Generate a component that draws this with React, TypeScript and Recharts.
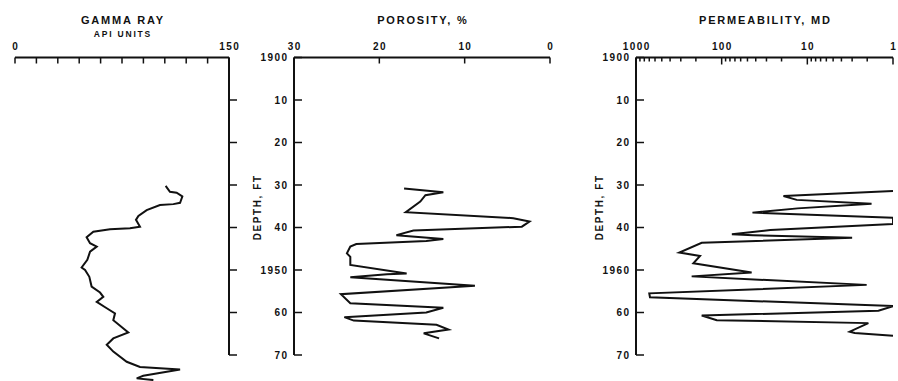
import React from 'react';
import { LineChart, Line, XAxis, YAxis, ReferenceLine, Label } from 'recharts';

// ---------- data ----------
const depthTicks = [1900, 1910, 1920, 1930, 1940, 1950, 1960, 1970];
const porosityDepthLabels = ['1900', '10', '20', '30', '40', '1950', '60', '70'];
const permDepthLabels = ['1900', '10', '20', '30', '40', '1960', '60', '70'];

const gammaTicks = [0, 15, 30, 45, 60, 75, 90, 105, 120, 135, 150];
const gammaTickLabels = ['0', '', '', '', '', '', '', '', '', '', '150'];
const porosityTicks = [30, 20, 10, 0];
const porosityTickLabels = ['30', '20', '10', '0'];
const permTicks = [1, 2, 3, 4, 5, 6, 7, 8, 9, 10, 20, 30, 40, 50, 60, 70, 80, 90, 100, 200, 300, 400, 500, 600, 700, 800, 900, 1000];
const permMajor = [1, 10, 100, 1000];

const gammaDepth = [1930.2, 1931.6, 1931.8, 1932.7, 1934.2, 1934.5, 1934.7, 1935.9, 1937.3, 1938.2, 1939.8, 1940.2, 1940.4, 1941.0, 1942.3, 1943.7, 1944.5, 1945.7, 1947.6, 1949.4, 1950.0, 1951.6, 1953.9, 1955.3, 1956.3, 1957.5, 1959.0, 1960.2, 1961.8, 1964.7, 1966.1, 1967.6, 1969.2, 1971.6, 1972.8, 1973.4, 1974.9, 1975.5, 1975.9];
const gammaValue = [105.6, 108.6, 113.3, 117.3, 115.7, 111, 101.6, 92.3, 86.5, 84.8, 87.6, 80.6, 66.6, 54.9, 50.2, 52.6, 57.3, 52.6, 50.7, 46.7, 49.1, 52.1, 53.7, 59.6, 61.9, 57.3, 64.3, 70.1, 68.9, 79.4, 68.9, 64.3, 68.9, 78.3, 87.6, 115.7, 89.9, 85.3, 97];

const porosityDepth = [1930.8, 1931.7, 1932.4, 1933.9, 1936.4, 1937.8, 1938.6, 1939.8, 1940.7, 1941.8, 1942.7, 1943.2, 1943.9, 1944.5, 1946.1, 1946.9, 1948.8, 1950.8, 1951.0, 1951.7, 1953.7, 1955.7, 1957.8, 1958.9, 1960.0, 1961.1, 1961.9, 1962.9, 1964.0, 1964.9, 1966.1];
const porosityValue = [17.1, 12.5, 14.6, 15.2, 16.9, 4.3, 2.4, 3.3, 16.0, 18.0, 12.5, 14.5, 22.7, 23.4, 23.8, 23.4, 23.4, 16.8, 19.1, 23.4, 8.8, 24.5, 23.4, 12.5, 14.5, 24.1, 23.0, 13.3, 11.9, 14.8, 13.0];

const permDepth = [1931.4, 1932.6, 1933.5, 1934.4, 1935.5, 1936.5, 1937.7, 1939.2, 1940.6, 1941.6, 1941.8, 1942.4, 1943.6, 1945.9, 1946.7, 1948.4, 1950.6, 1951.5, 1953.5, 1955.5, 1956.4, 1958.5, 1959.6, 1960.7, 1961.8, 1962.5, 1964.5, 1964.8, 1965.5];
const permValue = [1.0, 19, 13.3, 1.78, 13, 43.7, 1.0, 1.0, 27, 76, 43, 3.0, 171, 312, 179, 214, 44.7, 224, 2.03, 700, 687, 1.0, 1.48, 171, 114, 1.94, 3.2, 2.8, 1.0];

const gammaData = gammaDepth.map((d, i) => ({ depth: d, value: gammaValue[i] }));
const porosityData = porosityDepth.map((d, i) => ({ depth: d, value: porosityValue[i] }));
const permData = permDepth.map((d, i) => ({ depth: d, value: permValue[i] }));

// ---------- layout ----------
const W = 898;
const H = 381;
const TOP = 57.5;
const BOTTOM = 355;
const FONT = '"Liberation Sans", Arial, Helvetica, sans-serif';
const INK = '#111';
const AX = 2; // nominal axis thickness used for axis boxes
const TICK_FS = 10;
const TICK_LS = 1.4;

const TopTick = (p: any, label: string, len: number) => (
  <g>
    <line x1={p.x} x2={p.x} y1={p.y} y2={p.y + len} stroke={INK} strokeWidth={1.5} />
    {label ? (
      <text x={p.x + TICK_LS / 2} y={p.y - 7.5} textAnchor="middle" fontSize={TICK_FS} fontWeight="bold" fontFamily={FONT} fill={INK} letterSpacing={TICK_LS}>
        {label}
      </text>
    ) : null}
  </g>
);

const LeftTick = (p: any, label: string) => (
  <g>
    <line x1={p.x} x2={p.x + 8} y1={p.y} y2={p.y} stroke={INK} strokeWidth={1.5} />
    <text x={p.x - 7 + TICK_LS} y={p.y + 3.5} textAnchor="end" fontSize={TICK_FS} fontWeight="bold" fontFamily={FONT} fill={INK} letterSpacing={TICK_LS}>
      {label}
    </text>
  </g>
);

const RightTick = (p: any) => (
  <g>
    <line x1={p.x} x2={p.x + 8} y1={p.y} y2={p.y} stroke={INK} strokeWidth={1.5} />
  </g>
);

const titleContent = (lines: { text: string; dy: number; size: number }[]) => (props: any) => {
  const vb = props.viewBox || {};
  const cx = vb.x + vb.width / 2;
  const baseY = vb.y + (vb.height || 0);
  return (
    <g>
      {lines.map((l, i) => (
        <text key={i} x={cx + 0.9} y={baseY + l.dy} textAnchor="middle" fontSize={l.size} fontWeight="bold" fontFamily={FONT} fill={INK} letterSpacing={1.8}>
          {l.text}
        </text>
      ))}
    </g>
  );
};

const depthLabel = (props: any) => {
  const vb = props.viewBox || {};
  const x = vb.x + (vb.width || 0) - 33;
  const y = vb.y + vb.height / 2 + 1;
  return (
    <text x={x} y={y} transform={`rotate(-90 ${x} ${y})`} textAnchor="middle" fontSize={10} fontWeight="bold" fontFamily={FONT} fill={INK} letterSpacing={1.6}>
      DEPTH, FT
    </text>
  );
};

const box: React.CSSProperties = { position: 'absolute', left: 0, top: 0 };

export default function App() {
  const gH = 392;
  const gDomainMax = 1977;
  const gPlotBottom = TOP + (gDomainMax - 1900) * ((BOTTOM - TOP) / 70);
  return (
    <div style={{ position: 'absolute', left: 0, top: 0, width: W, height: H, overflow: 'hidden', background: '#fff' }}>
      {/* Gamma ray */}
      <div style={box}>
        <LineChart width={W} height={gH} layout="vertical" data={gammaData}
          margin={{ top: TOP - AX, left: 15, right: W - 229 - AX, bottom: gH - gPlotBottom }}>
          <XAxis type="number" dataKey="value" orientation="top" domain={[0, 150]} ticks={gammaTicks} interval={0}
            height={AX} tickSize={0} tickMargin={0} tickLine={false}
            axisLine={{ stroke: INK, strokeWidth: 2 }}
            tick={(p: any) => TopTick(p, gammaTickLabels[gammaTicks.indexOf(p.payload.value)] || '', 6)}>
            <Label content={titleContent([
              { text: 'GAMMA RAY', dy: -33.5, size: 11 },
              { text: 'API UNITS', dy: -21, size: 8.5 },
            ])} />
          </XAxis>
          <YAxis type="number" dataKey="depth" orientation="right" domain={[1900, gDomainMax]} ticks={depthTicks} interval={0}
            width={AX} tickSize={0} tickMargin={0} tickLine={false} axisLine={false}
            tick={(p: any) => (p.payload.value > 1900 ? RightTick(p) : <g />)} />
          <ReferenceLine segment={[{ x: 150, y: 1900 }, { x: 150, y: 1970 }]} stroke={INK} strokeWidth={2} />
          <Line type="linear" dataKey="value" stroke={INK} strokeWidth={2} dot={false} isAnimationActive={false} />
        </LineChart>
      </div>

      {/* Porosity */}
      <div style={box}>
        <LineChart width={W} height={H} layout="vertical" data={porosityData}
          margin={{ top: TOP - AX, left: 294 - AX, right: W - 550, bottom: H - BOTTOM }}>
          <XAxis type="number" dataKey="value" orientation="top" domain={[0, 30]} reversed ticks={porosityTicks} interval={0}
            height={AX} tickSize={0} tickMargin={0} tickLine={false}
            axisLine={{ stroke: INK, strokeWidth: 2 }}
            tick={(p: any) => TopTick(p, porosityTickLabels[porosityTicks.indexOf(p.payload.value)] || '', 6)}>
            <Label content={titleContent([{ text: 'POROSITY, %', dy: -34, size: 11 }])} />
          </XAxis>
          <YAxis type="number" dataKey="depth" orientation="left" domain={[1900, 1970]} ticks={depthTicks} interval={0}
            width={AX} tickSize={0} tickMargin={0} tickLine={false}
            axisLine={{ stroke: INK, strokeWidth: 2 }}
            tick={(p: any) => LeftTick(p, porosityDepthLabels[depthTicks.indexOf(p.payload.value)] || '')}>
            <Label content={depthLabel} />
          </YAxis>
          <Line type="linear" dataKey="value" stroke={INK} strokeWidth={2} dot={false} isAnimationActive={false} />
        </LineChart>
      </div>

      {/* Permeability */}
      <div style={box}>
        <LineChart width={W} height={H} layout="vertical" data={permData}
          margin={{ top: TOP - AX, left: 636 - AX, right: W - 893, bottom: H - BOTTOM }}>
          <XAxis type="number" dataKey="value" orientation="top" scale="log" domain={[1, 1000]} reversed ticks={permTicks} interval={0}
            height={AX} tickSize={0} tickMargin={0} tickLine={false} allowDataOverflow
            axisLine={{ stroke: INK, strokeWidth: 2 }}
            tick={(p: any) => TopTick(p, permMajor.includes(p.payload.value) ? String(p.payload.value) : '', permMajor.includes(p.payload.value) ? 7 : 4)}>
            <Label content={titleContent([{ text: 'PERMEABILITY, MD', dy: -34, size: 11 }])} />
          </XAxis>
          <YAxis type="number" dataKey="depth" orientation="left" domain={[1900, 1970]} ticks={depthTicks} interval={0}
            width={AX} tickSize={0} tickMargin={0} tickLine={false}
            axisLine={{ stroke: INK, strokeWidth: 2 }}
            tick={(p: any) => LeftTick(p, permDepthLabels[depthTicks.indexOf(p.payload.value)] || '')}>
            <Label content={depthLabel} />
          </YAxis>
          <Line type="linear" dataKey="value" stroke={INK} strokeWidth={2} dot={false} isAnimationActive={false} />
        </LineChart>
      </div>
    </div>
  );
}
